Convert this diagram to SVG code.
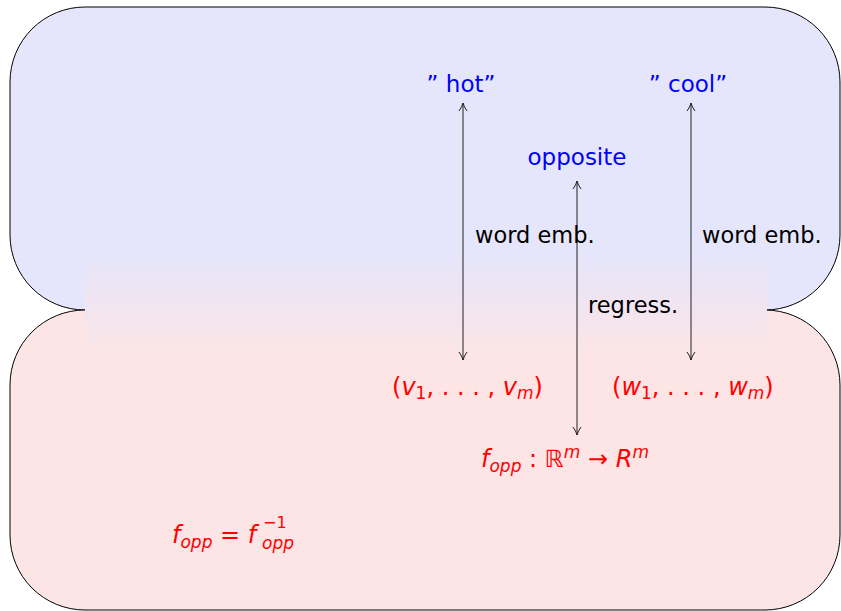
<svg xmlns="http://www.w3.org/2000/svg" width="841" height="611" viewBox="0 0 841 611">
<defs>
<linearGradient id="band" x1="0" y1="0" x2="0" y2="1">
<stop offset="0" stop-color="#e5e5fb"/>
<stop offset="1" stop-color="#fde5e5"/>
</linearGradient>
<marker id="tip" viewBox="0 0 10 10" refX="9" refY="5" markerWidth="10" markerHeight="10" markerUnits="userSpaceOnUse" orient="auto-start-reverse">
<path d="M1,1 Q5,4 9,5 Q5,6 1,9" fill="none" stroke="#222" stroke-width="1"/>
</marker>
<style>
text{font-family:"DejaVu Sans","Liberation Sans",sans-serif}
.t{font-size:23px;text-anchor:middle;fill:#0000ff}
.m{font-size:24px;fill:#ff0000}
.s{font-size:17px}
.i{font-style:italic}
.l{font-size:22.5px;fill:#000}
.c{stroke:#222;stroke-width:1;fill:none;marker-start:url(#tip);marker-end:url(#tip)}
</style>
</defs>
<g id="top"><rect x="10" y="7" width="830" height="303" rx="75" ry="75" fill="#e5e5fb" stroke="#000" stroke-width="1"/></g>
<g id="bottom"><rect x="10" y="310" width="830" height="300" rx="75" ry="75" fill="#fde5e5" stroke="#000" stroke-width="1"/></g>
<rect x="85" y="252" width="682" height="108" fill="url(#band)"/>
<g id="connectors">
<line class="c" x1="463" y1="103" x2="463" y2="360"/>
<line class="c" x1="577" y1="181" x2="577" y2="435"/>
<line class="c" x1="691" y1="103" x2="691" y2="360"/>
</g>
<g id="labels">
<text class="l" x="475" y="243">word emb.</text>
<text class="l" x="588" y="313">regress.</text>
<text class="l" x="702" y="243">word emb.</text>
</g>
<g id="hot"><text class="t" x="461" y="92">” hot”</text></g>
<g id="opposite"><text class="t" x="577" y="165">opposite</text></g>
<g id="cool"><text class="t" x="688" y="92">” cool”</text></g>
<g id="v"><text class="m" x="392" y="395">(<tspan class="i">v</tspan><tspan class="s" dy="4">1</tspan><tspan dy="-4">, . . . , </tspan><tspan class="i">v</tspan><tspan class="s i" dy="4">m</tspan><tspan dy="-4">)</tspan></text></g>
<g id="w"><text class="m" x="612" y="395">(<tspan class="i">w</tspan><tspan class="s" dy="4">1</tspan><tspan dy="-4">, . . . , </tspan><tspan class="i">w</tspan><tspan class="s i" dy="4">m</tspan><tspan dy="-4">)</tspan></text></g>
<g id="fopp"><text class="m" x="481" y="467"><tspan class="i">f</tspan><tspan class="s i" dy="5">opp</tspan><tspan dy="-5"> : ℝ</tspan><tspan class="s i" dy="-9">m</tspan><tspan dy="9"> → </tspan><tspan class="i">R</tspan><tspan class="s i" dy="-9">m</tspan></text></g>
<g id="inverse">
<text class="m" x="172" y="543"><tspan class="i">f</tspan><tspan class="s i" dy="5">opp</tspan><tspan dy="-5"> = </tspan><tspan class="i">f</tspan></text>
<text class="m" x="263" y="528" style="font-size:16px">−1</text>
<text class="m i" x="262" y="549" style="font-size:17px">opp</text>
</g>
</svg>
